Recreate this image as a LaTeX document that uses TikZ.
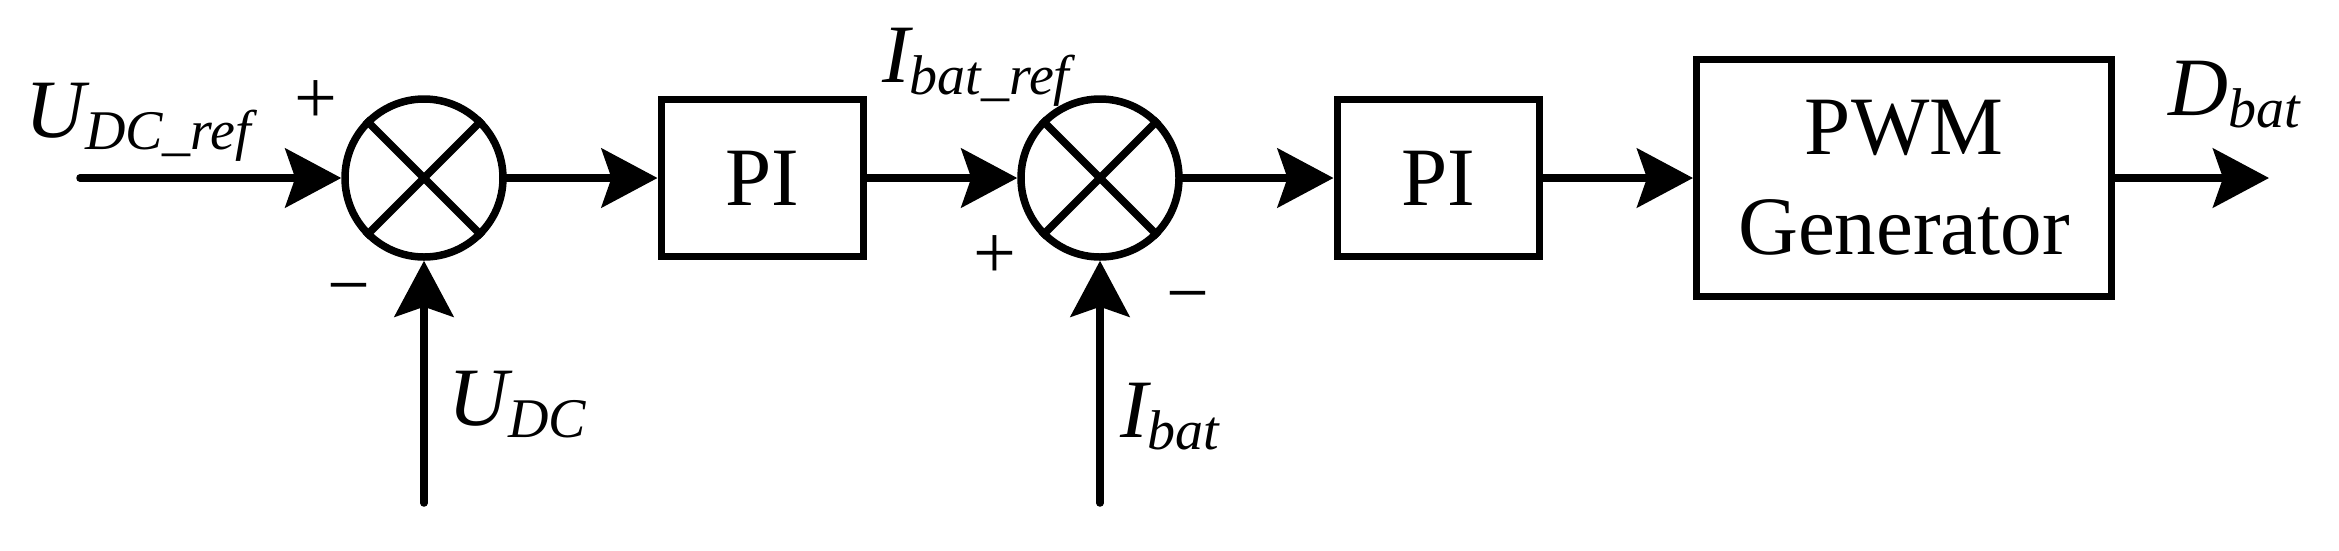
\documentclass[tikz,border=0pt]{standalone}
\usepackage{fontspec}
\setmainfont{Liberation Serif}
\usetikzlibrary{arrows.meta}
\newcommand{\biglbl}[2]{{\itshape #1}\raisebox{-12pt}{\fontsize{56}{60}\selectfont\itshape #2}}
\begin{document}
\begin{tikzpicture}[x=1pt,y=-1pt,
  lw/.style={line width=7.5pt},
  sumnode/.style={circle,draw,lw,minimum size=158pt,inner sep=0pt},
  blockbox/.style={rectangle,draw,line width=7pt,inner sep=0pt,font=\fontsize{83}{88}\selectfont,align=center},
  conn/.style={lw,line cap=round,-{Stealth[length=56pt,width=59pt,inset=10pt]}},
  txt/.style={inner sep=0pt,font=\fontsize{83}{88}\selectfont},
  sign/.style={inner sep=0pt,font=\fontsize{76}{80}\selectfont}]
\useasboundingbox (0,0) rectangle (2339,550);
% nodes
\node[sumnode] (s1) at (424,178) {};
\node[sumnode] (s2) at (1100,178) {};
\node[blockbox,minimum width=202pt,minimum height=157pt] (pi1) at (762,178) {PI};
\node[blockbox,minimum width=202pt,minimum height=157pt] (pi2) at (1438,178) {PI};
\node[blockbox,minimum width=415pt,minimum height=237pt] (pwm) at (1904,178) {PWM\\[12pt]Generator};
% crosses
\draw[lw] (s1.north west) -- (s1.south east) (s1.north east) -- (s1.south west);
\draw[lw] (s2.north west) -- (s2.south east) (s2.north east) -- (s2.south west);
% free ends
\coordinate (in) at (80,178);
\coordinate (out) at (2269,178);
\coordinate (fb1) at (424,503);
\coordinate (fb2) at (1100,503);
% connectors
\draw[conn] (in) -- (s1.west);
\draw[conn] (s1.east) -- (pi1.west);
\draw[conn] (pi1.east) -- (s2.west);
\draw[conn] (s2.east) -- (pi2.west);
\draw[conn] (pi2.east) -- (pwm.west);
\draw[conn] (pwm.east) -- (out);
\draw[conn] (fb1) -- (s1.south);
\draw[conn] (fb2) -- (s2.south);
% labels
\node[txt,anchor=base west] (lref) at (25,137) {\biglbl{U}{DC\_ref}};
\node[txt,anchor=base west] (ldc) at (448,425) {\biglbl{U}{DC}};
\node[txt,anchor=base west] (liref) at (882,82) {\biglbl{I}{bat\_ref}};
\node[txt,anchor=base west] (libat) at (1120,437) {\biglbl{I}{bat}};
\node[txt,anchor=base west] (ldbat) at (2168,115) {\biglbl{D}{bat}};
% signs
\node[sign] (p1) at (316,102) {+};
\node[sign] (m1) at (349,297) {−};
\node[sign] (p2) at (995,257) {+};
\node[sign] (m2) at (1188,305) {−};
\end{tikzpicture}
\end{document}
